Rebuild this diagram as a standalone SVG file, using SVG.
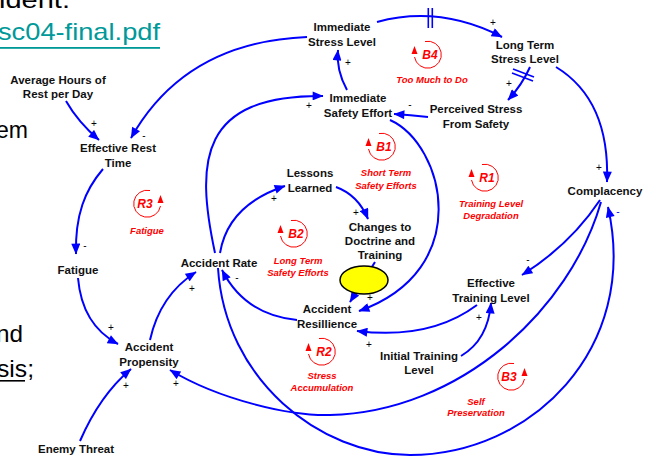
<svg xmlns="http://www.w3.org/2000/svg" width="646" height="456" viewBox="0 0 646 456">
<style>
.bg{font-family:"Liberation Sans",Arial,sans-serif;font-size:24px;fill:#000}
.n{font-family:"Liberation Sans",Arial,sans-serif;font-size:11.5px;font-weight:bold;fill:#111;text-anchor:middle}
.p{font-family:"Liberation Sans",Arial,sans-serif;font-size:10px;fill:#000;text-anchor:middle}
.lp{font-family:"Liberation Sans",Arial,sans-serif;font-size:12px;font-weight:bold;font-style:italic;fill:#ff0000;text-anchor:middle}
.ll{font-family:"Liberation Sans",Arial,sans-serif;font-size:9.5px;font-weight:bold;font-style:italic;fill:#ff0000;text-anchor:middle}
.c{fill:none;stroke:#0000ff;stroke-width:2;marker-end:url(#ah)}
.d{stroke:#0000ff;stroke-width:1.6}
.lc{fill:none;stroke:#ff0000;stroke-width:1}
.la{fill:#ff0000}
</style>
<defs>
<marker id="ah" viewBox="0 0 12 10" refX="11.5" refY="5" markerWidth="12" markerHeight="9" markerUnits="userSpaceOnUse" orient="auto">
<path d="M0,0 L12,5 L0,10 z" fill="#0000ff"/>
</marker>
</defs>
<rect width="646" height="456" fill="#fff"/>
<g id="slide-text">
<text class="bg" x="-1" y="8" textLength="71" lengthAdjust="spacingAndGlyphs">ident:</text>
<text class="bg" x="-2" y="40" textLength="162" lengthAdjust="spacingAndGlyphs" style="fill:#009999">sc04-final.pdf</text>
<rect x="0" y="47" width="160" height="1.8" fill="#009999"/>
<text class="bg" x="-4" y="138" textLength="32" lengthAdjust="spacingAndGlyphs">em</text>
<text class="bg" x="-4" y="342" textLength="27" lengthAdjust="spacingAndGlyphs">nd</text>
<text class="bg" x="-3" y="377" textLength="37" lengthAdjust="spacingAndGlyphs">sis;</text>
<rect x="0" y="380" width="25" height="1.6" fill="#000"/>
</g>
<g id="connectors">
<path class="c" d="M307 37 Q185 42 131 138"/>
<path class="c" d="M66 101 Q78 122 99 140"/>
<path class="c" d="M103 169 C85 190 75 215 76 254"/>
<path class="c" d="M78 278 Q82 325 118 344"/>
<path class="c" d="M80 441 Q100 395 131 369"/>
<path class="c" d="M150 340 Q160 295 196 272"/>
<path class="c" d="M297 320 Q245 315 222 270"/>
<path class="c" d="M220 253 Q228 205 285 186"/>
<path class="c" d="M215 253 C195 160 200 95 323 96"/>
<path class="c" d="M347 90 Q336 70 338 50"/>
<path class="c" d="M377 22 Q440 5 502 37"/>
<line class="d" x1="428.3" y1="8" x2="428.3" y2="28"/>
<line class="d" x1="432.3" y1="8" x2="432.3" y2="28"/>
<path class="c" d="M530 67 Q522 85 508 100"/>
<line class="d" x1="513" y1="69" x2="534" y2="77"/>
<line class="d" x1="512" y1="73" x2="533" y2="81"/>
<path class="c" d="M428 117 Q410 115 394 114"/>
<path class="c" d="M556 67 Q610 100 607 182"/>
<path class="c" d="M390 120 C445 145 475 270 359 311"/>
<path class="c" d="M336 187 Q358 195 368 219"/>
<path class="c" d="M375 262 L350 302"/>
<path class="c" d="M477 305 Q430 340 357 331"/>
<path class="c" d="M461 356 Q488 340 491 303"/>
<path class="c" d="M600 200 Q570 245 522 275"/>
<path class="c" d="M601 202 C570 310 460 412 330 415 C290 416 220 400 170 370"/>
<path class="c" d="M218 268 C225 380 320 455 410 455 C530 455 640 350 608 207"/>
</g>
<g id="polarity">
<text class="p" x="144" y="139">-</text>
<text class="p" x="94" y="127">+</text>
<text class="p" x="85" y="249">-</text>
<text class="p" x="111" y="331">+</text>
<text class="p" x="126" y="389">+</text>
<text class="p" x="192" y="292">+</text>
<text class="p" x="237" y="281">-</text>
<text class="p" x="274" y="202">+</text>
<text class="p" x="309" y="109">+</text>
<text class="p" x="348" y="66">+</text>
<text class="p" x="493" y="26">+</text>
<text class="p" x="509" y="87">+</text>
<text class="p" x="410" y="108">-</text>
<text class="p" x="599" y="171">+</text>
<text class="p" x="370" y="301">+</text>
<text class="p" x="356" y="216">+</text>
<text class="p" x="369" y="348">+</text>
<text class="p" x="479" y="321">+</text>
<text class="p" x="528" y="263">-</text>
<text class="p" x="176" y="387">+</text>
<text class="p" x="618" y="215" style="fill:#0000ff">-</text>
</g>
<g id="highlight">
<ellipse cx="364" cy="280" rx="24" ry="14" fill="#ffff00" stroke="#000" stroke-width="1.5"/>
</g>
<g id="node-immediate-stress"><text class="n" x="342" y="31">Immediate</text><text class="n" x="342" y="46">Stress Level</text></g>
<g id="node-long-term-stress"><text class="n" x="525" y="49">Long Term</text><text class="n" x="525" y="63">Stress Level</text></g>
<g id="node-immediate-safety"><text class="n" x="358" y="102">Immediate</text><text class="n" x="358" y="117">Safety Effort</text></g>
<g id="node-perceived-stress"><text class="n" x="476" y="113">Perceived Stress</text><text class="n" x="476" y="128">From Safety</text></g>
<g id="node-complacency"><text class="n" x="605" y="195">Complacency</text></g>
<g id="node-avg-rest"><text class="n" x="58" y="84">Average Hours of</text><text class="n" x="58" y="98">Rest per Day</text></g>
<g id="node-effective-rest"><text class="n" x="118" y="152">Effective Rest</text><text class="n" x="118" y="167">Time</text></g>
<g id="node-lessons"><text class="n" x="310" y="177">Lessons</text><text class="n" x="310" y="192">Learned</text></g>
<g id="node-changes"><text class="n" x="380" y="231">Changes to</text><text class="n" x="380" y="245">Doctrine and</text><text class="n" x="380" y="259">Training</text></g>
<g id="node-accident-rate"><text class="n" x="219" y="267">Accident Rate</text></g>
<g id="node-fatigue"><text class="n" x="78" y="274">Fatigue</text></g>
<g id="node-propensity"><text class="n" x="149" y="351">Accident</text><text class="n" x="149" y="366">Propensity</text></g>
<g id="node-resillience"><text class="n" x="327" y="313">Accident</text><text class="n" x="327" y="328">Resillience</text></g>
<g id="node-effective-training"><text class="n" x="491" y="287">Effective</text><text class="n" x="491" y="302">Training Level</text></g>
<g id="node-initial-training"><text class="n" x="419" y="360">Initial Training</text><text class="n" x="419" y="374">Level</text></g>
<g id="node-enemy"><text class="n" x="76" y="453">Enemy Threat</text></g>
<g id="loop-B4">
<path class="lc" d="M425 41.5 A13.5 13.5 0 1 1 414.5 57"/>
<path class="la" d="M414.5 46 L411.5 54 L417.5 54 z"/>
<text class="lp" x="430" y="59">B4</text>
<text class="ll" x="432" y="83">Too Much to Do</text>
</g>
<g id="loop-B1">
<path class="lc" d="M379 133.5 A13.5 13.5 0 1 1 368.5 149"/>
<path class="la" d="M368.5 138 L365.5 146 L371.5 146 z"/>
<text class="lp" x="384" y="151">B1</text>
<text class="ll" x="386" y="176">Short Term</text>
<text class="ll" x="386" y="189">Safety Efforts</text>
</g>
<g id="loop-R1">
<path class="lc" d="M482 164.5 A13.5 13.5 0 1 1 471.5 180"/>
<path class="la" d="M471.5 169 L468.5 177 L474.5 177 z"/>
<text class="lp" x="487" y="182">R1</text>
<text class="ll" x="491" y="207">Training Level</text>
<text class="ll" x="491" y="219">Degradation</text>
</g>
<g id="loop-R3">
<path class="lc" d="M150 190.5 A13.5 13.5 0 1 0 160.5 206"/>
<path class="la" d="M160.5 195 L157.5 203 L163.5 203 z"/>
<text class="lp" x="145" y="208">R3</text>
<text class="ll" x="147" y="234">Fatigue</text>
</g>
<g id="loop-B2">
<path class="lc" d="M291 220.5 A13.5 13.5 0 1 1 280.5 236"/>
<path class="la" d="M280.5 225 L277.5 233 L283.5 233 z"/>
<text class="lp" x="296" y="238">B2</text>
<text class="ll" x="298" y="264">Long Term</text>
<text class="ll" x="298" y="276">Safety Efforts</text>
</g>
<g id="loop-R2">
<path class="lc" d="M319 338.5 A13.5 13.5 0 1 1 308.5 354"/>
<path class="la" d="M308.5 343 L305.5 351 L311.5 351 z"/>
<text class="lp" x="324" y="356">R2</text>
<text class="ll" x="322" y="379">Stress</text>
<text class="ll" x="322" y="391">Accumulation</text>
</g>
<g id="loop-B3">
<path class="lc" d="M514 363.5 A13.5 13.5 0 1 0 524.5 379"/>
<path class="la" d="M524.5 368 L521.5 376 L527.5 376 z"/>
<text class="lp" x="509" y="381">B3</text>
<text class="ll" x="476" y="405">Self</text>
<text class="ll" x="476" y="416">Preservation</text>
</g>
</svg>
